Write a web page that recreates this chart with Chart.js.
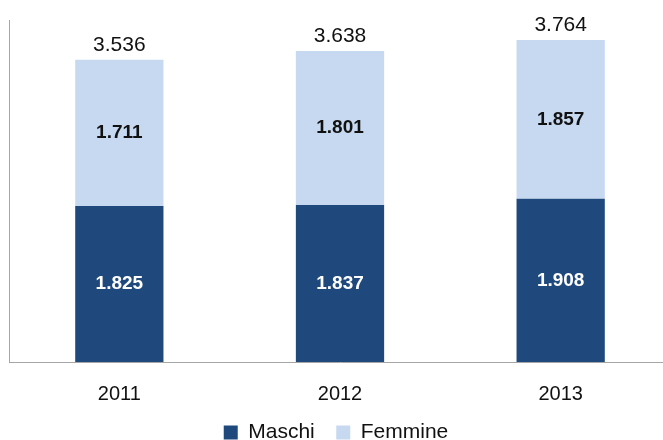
<!DOCTYPE html>
<html>
<head>
<meta charset="utf-8">
<script src="https://cdn.jsdelivr.net/npm/chart.js@4.4.0/dist/chart.umd.min.js"></script>
<style>
  html, body { margin: 0; padding: 0; background: #fff; overflow: hidden; }
  #wrap { width: 663px; height: 440px; overflow: hidden; }
</style>
</head>
<body>
<div id="wrap"><canvas id="chart" width="672" height="440"></canvas></div>
<script>
const years = ["2011", "2012", "2013"];
const maschi = [1825, 1837, 1908];
const femmine = [1711, 1801, 1857];
const totali = [3536, 3638, 3764];

const fmt = (v) => v.toLocaleString("it-IT");

// labels inside segments and totals on top
const labelsPlugin = {
  id: "barLabels",
  afterDatasetsDraw(chart) {
    const ctx = chart.ctx;
    ctx.save();
    ctx.textAlign = "center";
    ctx.textBaseline = "middle";
    chart.data.datasets.forEach((ds, i) => {
      const meta = chart.getDatasetMeta(i);
      meta.data.forEach((bar, j) => {
        const mid = (bar.y + bar.base) / 2;
        ctx.font = "bold 19px 'Liberation Sans', Arial, sans-serif";
        ctx.fillStyle = i === 0 ? "#ffffff" : "#111111";
        ctx.fillText(fmt(ds.data[j]), bar.x, mid);
      });
    });
    const top = chart.getDatasetMeta(chart.data.datasets.length - 1);
    ctx.font = "21px 'Liberation Sans', Arial, sans-serif";
    ctx.fillStyle = "#111111";
    ctx.textBaseline = "bottom";
    top.data.forEach((bar, j) => {
      ctx.fillText(fmt(totali[j]), bar.x, bar.y - 4);
    });
    ctx.restore();
  }
};

new Chart(document.getElementById("chart").getContext("2d"), {
  type: "bar",
  data: {
    labels: years,
    datasets: [
      {
        label: "Maschi",
        data: maschi,
        backgroundColor: "#1F497D",
        categoryPercentage: 1,
        barPercentage: 0.4,
      },
      {
        label: "Femmine",
        data: femmine,
        backgroundColor: "#C6D9F1",
        categoryPercentage: 1,
        barPercentage: 0.4,
      },
    ],
  },
  options: {
    responsive: false,
    animation: false,
    devicePixelRatio: 1,
    layout: { padding: { left: 1, right: 1, top: 20, bottom: -13 } },
    plugins: {
      tooltip: { enabled: false },
      legend: {
        position: "bottom",
        labels: {
          boxWidth: 14,
          boxHeight: 14,
          padding: 4,
          color: "#111",
          font: { size: 21, family: "'Liberation Sans', Arial, sans-serif" },
          generateLabels(chart) {
            const items = Chart.defaults.plugins.legend.labels.generateLabels(chart);
            // wider gap between the two entries
            items[0].text = items[0].text + "   ";
            return items;
          },
        },
      },
    },
    scales: {
      x: {
        stacked: true,
        grid: { display: false },
        border: { color: "#a6a6a6", width: 1 },
        ticks: {
          padding: 12,
          color: "#111",
          font: { size: 20, family: "'Liberation Sans', Arial, sans-serif" },
        },
      },
      y: {
        stacked: true,
        min: 0,
        max: 4000,
        grid: { display: false },
        border: { color: "#a6a6a6", width: 1 },
        ticks: { display: false },
      },
    },
  },
  plugins: [labelsPlugin],
});
</script>
</body>
</html>
